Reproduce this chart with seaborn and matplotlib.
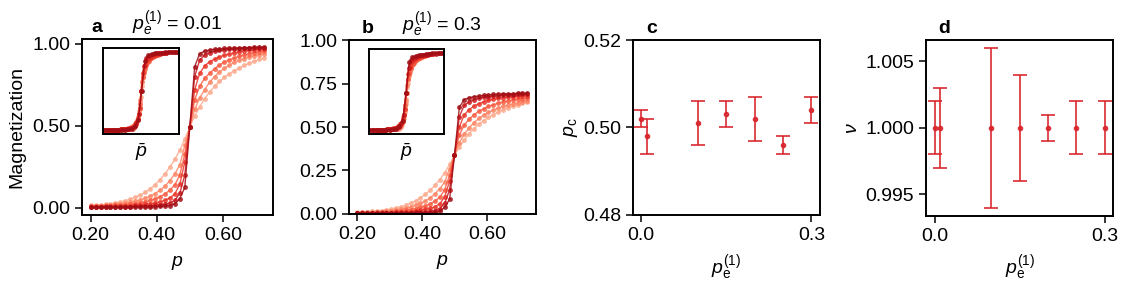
import numpy as np
import pandas as pd
import seaborn as sns
import matplotlib
matplotlib.use('Agg')
import matplotlib.pyplot as plt
from matplotlib.ticker import FormatStrFormatter

# control parameter p (same grid for every curve)
p_vals = [0.200, 0.215, 0.230, 0.245, 0.260, 0.275, 0.290, 0.305, 0.320, 0.335,
          0.350, 0.365, 0.380, 0.395, 0.410, 0.425, 0.440, 0.455, 0.470, 0.485,
          0.500, 0.515, 0.530, 0.545, 0.560, 0.575, 0.590, 0.605, 0.620, 0.635,
          0.650, 0.665, 0.680, 0.695, 0.710, 0.725]
sizes = [10, 16, 24, 32, 48, 64]

# panel a: p_e^(1) = 0.01, light -> dark
mag_a0 = [0.015, 0.017, 0.019, 0.022, 0.025, 0.030, 0.036, 0.043, 0.052, 0.064, 0.078, 0.095,
          0.116, 0.141, 0.171, 0.207, 0.249, 0.297, 0.350, 0.420, 0.490, 0.560, 0.615, 0.665,
          0.705, 0.740, 0.770, 0.795, 0.817, 0.836, 0.853, 0.868, 0.881, 0.893, 0.904, 0.914]
mag_a1 = [0.012, 0.013, 0.014, 0.016, 0.018, 0.021, 0.024, 0.028, 0.033, 0.040, 0.048, 0.058,
          0.071, 0.087, 0.107, 0.133, 0.166, 0.208, 0.262, 0.380, 0.490, 0.600, 0.670, 0.720,
          0.765, 0.800, 0.828, 0.851, 0.870, 0.886, 0.899, 0.910, 0.919, 0.927, 0.934, 0.940]
mag_a2 = [0.010, 0.010, 0.011, 0.012, 0.013, 0.015, 0.017, 0.019, 0.022, 0.026, 0.031, 0.037,
          0.045, 0.055, 0.068, 0.085, 0.108, 0.140, 0.200, 0.330, 0.490, 0.660, 0.740, 0.790,
          0.820, 0.848, 0.870, 0.888, 0.902, 0.914, 0.924, 0.932, 0.939, 0.945, 0.950, 0.954]
mag_a3 = [0.008, 0.008, 0.008, 0.009, 0.009, 0.010, 0.011, 0.012, 0.014, 0.016, 0.018, 0.021,
          0.025, 0.030, 0.037, 0.046, 0.060, 0.085, 0.145, 0.280, 0.490, 0.720, 0.820, 0.865,
          0.890, 0.907, 0.920, 0.930, 0.938, 0.945, 0.951, 0.956, 0.960, 0.963, 0.966, 0.968]
mag_a4 = [0.006, 0.006, 0.006, 0.006, 0.007, 0.007, 0.007, 0.008, 0.008, 0.009, 0.010, 0.011,
          0.013, 0.015, 0.018, 0.022, 0.030, 0.045, 0.090, 0.200, 0.490, 0.800, 0.900, 0.930,
          0.945, 0.953, 0.959, 0.963, 0.966, 0.968, 0.970, 0.972, 0.973, 0.974, 0.975, 0.976]
mag_a5 = [0.005, 0.005, 0.005, 0.005, 0.005, 0.005, 0.005, 0.006, 0.006, 0.006, 0.006, 0.007,
          0.007, 0.008, 0.009, 0.011, 0.014, 0.025, 0.055, 0.125, 0.490, 0.860, 0.940, 0.955,
          0.962, 0.966, 0.969, 0.971, 0.973, 0.974, 0.975, 0.976, 0.977, 0.978, 0.979, 0.980]

# panel b: p_e^(1) = 0.3
mag_b0 = [0.010, 0.011, 0.013, 0.015, 0.017, 0.020, 0.024, 0.029, 0.035, 0.042, 0.051, 0.062,
          0.076, 0.093, 0.113, 0.137, 0.165, 0.198, 0.237, 0.285, 0.337, 0.385, 0.425, 0.460,
          0.490, 0.515, 0.537, 0.555, 0.571, 0.585, 0.598, 0.609, 0.619, 0.628, 0.636, 0.643]
mag_b1 = [0.008, 0.009, 0.010, 0.011, 0.012, 0.014, 0.016, 0.019, 0.023, 0.028, 0.034, 0.041,
          0.050, 0.061, 0.075, 0.093, 0.116, 0.146, 0.185, 0.260, 0.337, 0.410, 0.458, 0.495,
          0.525, 0.549, 0.568, 0.584, 0.597, 0.608, 0.618, 0.626, 0.633, 0.640, 0.646, 0.651]
mag_b2 = [0.007, 0.007, 0.008, 0.008, 0.009, 0.010, 0.011, 0.013, 0.015, 0.018, 0.021, 0.025,
          0.031, 0.038, 0.047, 0.059, 0.075, 0.097, 0.140, 0.225, 0.337, 0.455, 0.510, 0.545,
          0.570, 0.590, 0.605, 0.618, 0.628, 0.637, 0.644, 0.650, 0.655, 0.659, 0.663, 0.666]
mag_b3 = [0.005, 0.005, 0.006, 0.006, 0.006, 0.007, 0.008, 0.008, 0.009, 0.011, 0.012, 0.014,
          0.017, 0.021, 0.026, 0.032, 0.042, 0.060, 0.100, 0.190, 0.337, 0.500, 0.570, 0.600,
          0.620, 0.634, 0.645, 0.653, 0.659, 0.664, 0.668, 0.672, 0.675, 0.677, 0.679, 0.681]
mag_b4 = [0.004, 0.004, 0.004, 0.004, 0.005, 0.005, 0.005, 0.005, 0.006, 0.006, 0.007, 0.008,
          0.009, 0.010, 0.012, 0.015, 0.020, 0.031, 0.062, 0.140, 0.337, 0.560, 0.625, 0.645,
          0.656, 0.664, 0.670, 0.674, 0.677, 0.680, 0.682, 0.684, 0.686, 0.687, 0.688, 0.689]
mag_b5 = [0.003, 0.003, 0.003, 0.003, 0.003, 0.003, 0.004, 0.004, 0.004, 0.004, 0.004, 0.005,
          0.005, 0.006, 0.006, 0.007, 0.010, 0.017, 0.038, 0.085, 0.337, 0.613, 0.658, 0.668,
          0.674, 0.678, 0.682, 0.685, 0.687, 0.689, 0.690, 0.691, 0.692, 0.693, 0.694, 0.695]

# panels c, d: fitted critical point and exponent
pe_vals = [0.0, 0.01, 0.1, 0.15, 0.2, 0.25, 0.3]
pc_vals = [0.502, 0.498, 0.501, 0.503, 0.502, 0.496, 0.504]
pc_err = [0.002, 0.004, 0.005, 0.003, 0.005, 0.002, 0.003]
nu_vals = [1.000, 1.000, 1.000, 1.000, 1.000, 1.000, 1.000]
nu_err = [0.002, 0.003, 0.006, 0.004, 0.001, 0.002, 0.002]

FS = 14
sns.set_style('ticks')
plt.rcParams['font.family'] = ['Liberation Sans', 'DejaVu Sans']
plt.rcParams['font.size'] = FS
plt.rcParams['mathtext.fontset'] = 'custom'
plt.rcParams['mathtext.rm'] = 'Liberation Sans'
plt.rcParams['mathtext.it'] = 'Liberation Sans:italic'
for key in ['text.color', 'axes.labelcolor', 'xtick.color', 'ytick.color', 'axes.edgecolor']:
    plt.rcParams[key] = 'black'
plt.rcParams['axes.linewidth'] = 1.4
plt.rcParams['xtick.major.width'] = 1.1
plt.rcParams['ytick.major.width'] = 1.1
plt.rcParams['xtick.major.size'] = 5
plt.rcParams['ytick.major.size'] = 5
plt.rcParams['axes.labelpad'] = 7

colors = [plt.cm.Reds(v) for v in np.linspace(0.30, 0.88, 6)]
err_color = '#d8262c'


def long_frame(curves, pc, nu):
    rows = []
    for L, m in zip(sizes, curves):
        for p, v in zip(p_vals, m):
            rows.append({'p': p, 'm': v, 'L': L, 'pbar': (p - pc) * L ** (1 / nu)})
    return pd.DataFrame(rows)


df_a = long_frame([mag_a0, mag_a1, mag_a2, mag_a3, mag_a4, mag_a5], pc_vals[1], nu_vals[1])
df_b = long_frame([mag_b0, mag_b1, mag_b2, mag_b3, mag_b4, mag_b5], pc_vals[6], nu_vals[6])

fig = plt.figure(figsize=(11.29, 2.88), dpi=100)
ax_a = fig.add_axes([0.0726, 0.2535, 0.169, 0.611])
ax_b = fig.add_axes([0.309, 0.257, 0.1656, 0.604])
ax_c = fig.add_axes([0.5604, 0.2535, 0.1659, 0.6076])
ax_d = fig.add_axes([0.8202, 0.251, 0.1659, 0.61])

line_kw = dict(marker='o', markersize=3.5, markeredgewidth=0, linewidth=1.0,
               alpha=0.85, legend=False, palette=colors)

for ax, df, title in [(ax_a, df_a, r'$p_e^{(1)}$ = 0.01'), (ax_b, df_b, r'$p_e^{(1)}$ = 0.3')]:
    sns.lineplot(data=df, x='p', y='m', hue='L', ax=ax, **line_kw)
    ax.set_xticks([0.2, 0.4, 0.6])
    ax.xaxis.set_major_formatter(FormatStrFormatter('%.2f'))
    ax.yaxis.set_major_formatter(FormatStrFormatter('%.2f'))
    ax.set_xlabel('$p$')
    ax.set_ylabel('')
    ax.set_title(title, fontsize=FS, pad=6)
    # data collapse inset
    ins = ax.inset_axes([0.11, 0.46, 0.40, 0.49])
    sns.lineplot(data=df, x='pbar', y='m', hue='L', ax=ins, **line_kw)
    ins.set_xlim(-11, 11)
    ins.set_xticks([])
    ins.set_yticks([])
    ins.set_ylabel('')
    ins.set_xlabel(r'$\bar{p}$', labelpad=5)
    for s in ins.spines.values():
        s.set_linewidth(1.4)

ax_a.set_yticks([0.0, 0.5, 1.0])
ax_a.set_ylabel('Magnetization', labelpad=5)
ax_b.set_ylim(0, 1)
ax_b.set_yticks([0.0, 0.25, 0.5, 0.75, 1.0])

err_kw = dict(fmt='o', ms=3, color=err_color, ecolor=err_color, capsize=5,
              elinewidth=1.3, capthick=1.3, alpha=0.9)
ax_c.errorbar(pe_vals, pc_vals, yerr=pc_err, **err_kw)
ax_c.set_ylim(0.48, 0.52)
ax_c.set_yticks([0.48, 0.50, 0.52])
ax_c.yaxis.set_major_formatter(FormatStrFormatter('%.2f'))
ax_c.set_ylabel(r'$p_\mathrm{c}$', labelpad=2)

ax_d.errorbar(pe_vals, nu_vals, yerr=nu_err, **err_kw)
ax_d.set_yticks([0.995, 1.000, 1.005])
ax_d.yaxis.set_major_formatter(FormatStrFormatter('%.3f'))
ax_d.set_ylabel(r'$\nu$', labelpad=3)

for ax in (ax_c, ax_d):
    ax.set_xticks([0.0, 0.3])
    ax.xaxis.set_major_formatter(FormatStrFormatter('%.1f'))
    ax.set_xlabel(r'$p_\mathrm{e}^{(1)}$')

for ax, letter, xpos in [(ax_a, 'a', 0.05), (ax_b, 'b', 0.07), (ax_c, 'c', 0.07), (ax_d, 'd', 0.065)]:
    ax.text(xpos, 1.02, letter, transform=ax.transAxes, fontweight='bold',
            fontsize=FS, va='bottom', ha='left')

fig.savefig('out.png', dpi=100)
